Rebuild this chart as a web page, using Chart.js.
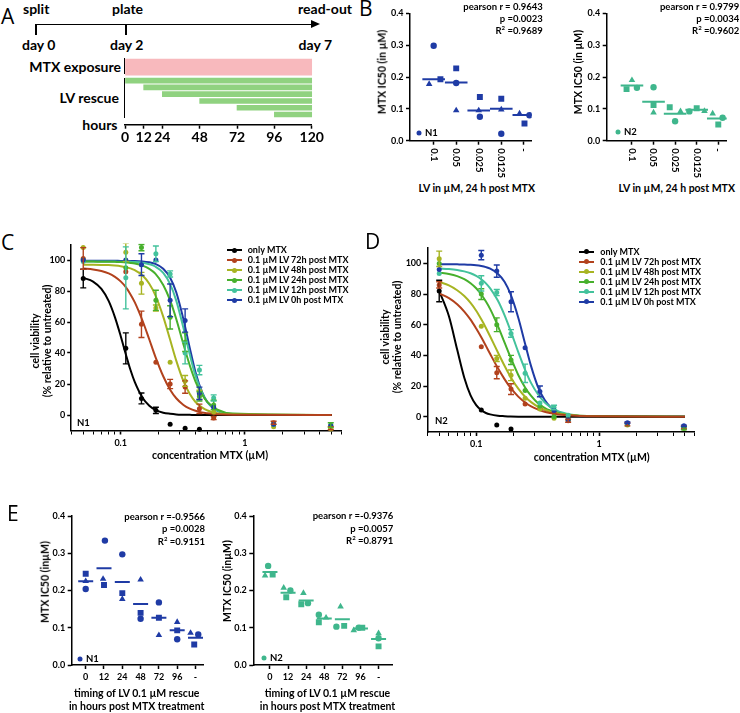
<!DOCTYPE html>
<html lang="en">
<head>
    <meta charset="UTF-8">
    <title>MTX IC50 and leucovorin rescue</title>
    <script src="https://cdn.jsdelivr.net/npm/chart.js"></script>
    <style>
        body { margin: 0; background: #fff; }
        #fig { position: relative; width: 740px; height: 713px; overflow: hidden; font-family: Lato, sans-serif; font-weight: bold; color: #000; }
        #fig canvas { position: absolute; }
        .t { position: absolute; white-space: nowrap; line-height: 1; }
        .c { transform: translate(-50%, -50%); }
        .r { transform: translate(-100%, -50%); }
        .l { transform: translate(0, -50%); }
        .v { transform: translate(-50%, -50%) rotate(-90deg); }
        .letter { font-family: "Open Sans", sans-serif; font-weight: normal; font-size: 21px; }
        .a { font-size: 14px; }
        .ttl { font-size: 10.5px; }
        .small { font-size: 9.5px; }
        .stat { position: absolute; font-size: 9.5px; text-align: right; line-height: 12px; white-space: nowrap; }
        .stat sup { font-size: 6px; line-height: 0; vertical-align: 4px; }
        .ln { position: absolute; background: #000; }
        .leg { position: absolute; font-size: 9px; }
        .leg div { position: relative; height: 10px; line-height: 10px; padding-left: 21px; white-space: nowrap; }
        .leg div::before { content: ''; position: absolute; left: 0; top: 4px; width: 15px; height: 2px; background: var(--c); }
        .leg div::after { content: ''; position: absolute; left: 5px; top: 2.5px; width: 5px; height: 5px; border-radius: 50%; background: var(--c); }
        .dot { position: absolute; width: 5px; height: 5px; border-radius: 50%; transform: translate(-50%, -50%); }
    </style>
</head>
<body>
<div id="fig">
    <!-- A: timeline -->
    <div class="t letter l" style="left:1px;top:16px">A</div>
    <div class="t a l" style="left:23px;top:8.5px">split</div>
    <div class="t a l" style="left:112px;top:8.5px">plate</div>
    <div class="t a r" style="left:352px;top:8.5px">read-out</div>
    <div class="ln" style="left:36px;top:23.5px;width:277px;height:1.6px"></div>
    <div style="position:absolute;left:311px;top:19.8px;width:0;height:0;border-left:9px solid #000;border-top:4.5px solid transparent;border-bottom:4.5px solid transparent"></div>
    <div class="ln" style="left:35.2px;top:23.5px;width:1.6px;height:11.5px"></div>
    <div class="ln" style="left:125.2px;top:23.5px;width:1.6px;height:11.5px"></div>
    <div class="t a l" style="left:22px;top:45px">day 0</div>
    <div class="t a l" style="left:110px;top:45px">day 2</div>
    <div class="t a r" style="left:332px;top:45px">day 7</div>
    <div class="t a r" style="left:121px;top:67px">MTX exposure</div>
    <div class="t a r" style="left:119px;top:98px">LV rescue</div>
    <div class="t a r" style="left:117.5px;top:124.7px">hours</div>
    <div class="ln" style="left:123.5px;top:58px;width:1.6px;height:16px"></div>
    <div class="ln" style="left:123.5px;top:78px;width:1.6px;height:39.5px"></div>
    <canvas id="chartA" width="340" height="100" style="left:0;top:50px"></canvas>

    <!-- B -->
    <div class="t letter l" style="left:359px;top:8px">B</div>
    <canvas id="chartB1" width="165" height="181" style="left:380px;top:0"></canvas>
    <canvas id="chartB2" width="163" height="181" style="left:577px;top:0"></canvas>
    <div class="t ttl v" style="left:381.7px;top:71.7px">MTX IC50 (in µM)</div>
    <div class="t ttl v" style="left:578.3px;top:71.7px">MTX IC50 (in µM)</div>
    <div class="t ttl c" style="left:476.7px;top:188px">LV in µM, 24 h post MTX</div>
    <div class="t ttl c" style="left:676.7px;top:188px">LV in µM, 24 h post MTX</div>
    <div class="stat" style="right:197.3px;top:0.7px">pearson r = 0.9643<br>p =0.0023<br>R<sup>2</sup> =0.9689</div>
    <div class="stat" style="right:0.7px;top:0.7px">pearson r = 0.9799<br>p =0.0034<br>R<sup>2</sup> =0.9602</div>
    <div class="dot" style="left:419.3px;top:132.7px;background:#1f3ba5"></div>
    <div class="t small l" style="left:425px;top:132.7px">N1</div>
    <div class="dot" style="left:618.3px;top:131.7px;background:#3fb68c"></div>
    <div class="t small l" style="left:624px;top:131.7px">N2</div>

    <!-- C -->
    <div class="t letter l" style="left:1px;top:241.5px">C</div>
    <canvas id="chartC" width="350" height="216" style="left:0;top:236px"></canvas>
    <div class="t ttl v" style="left:35px;top:341px">cell viability</div>
    <div class="t ttl v" style="left:46.7px;top:341px">(% relative to untreated)</div>
    <div class="t ttl c" style="left:210px;top:455px">concentration MTX (µM)</div>
    <div class="t small l" style="left:77px;top:423.3px">N1</div>
    <div class="leg" style="left:226.7px;top:245px">
        <div style="--c:#000000">only MTX</div>
        <div style="--c:#b2421d">0.1 µM LV 72h post MTX</div>
        <div style="--c:#a7b422">0.1 µM LV 48h post MTX</div>
        <div style="--c:#47b02c">0.1 µM LV 24h post MTX</div>
        <div style="--c:#43c29c">0.1 µM LV 12h post MTX</div>
        <div style="--c:#1f3ba5">0.1 µM LV 0h post MTX</div>
    </div>

    <!-- D -->
    <div class="t letter l" style="left:365px;top:241px">D</div>
    <canvas id="chartD" width="370" height="216" style="left:370px;top:236px"></canvas>
    <div class="t ttl v" style="left:385px;top:336.7px">cell viability</div>
    <div class="t ttl v" style="left:396.7px;top:336.7px">(% relative to untreated)</div>
    <div class="t ttl c" style="left:591.7px;top:456.7px">concentration MTX (µM)</div>
    <div class="t small l" style="left:435px;top:420.7px">N2</div>
    <div class="leg" style="left:579.3px;top:246.7px">
        <div style="--c:#000000">only MTX</div>
        <div style="--c:#b2421d">0.1 µM LV 72h post MTX</div>
        <div style="--c:#a7b422">0.1 µM LV 48h post MTX</div>
        <div style="--c:#47b02c">0.1 µM LV 24h post MTX</div>
        <div style="--c:#43c29c">0.1 µM LV 12h post MTX</div>
        <div style="--c:#1f3ba5">0.1 µM LV 0h post MTX</div>
    </div>

    <!-- E -->
    <div class="t letter l" style="left:7px;top:513px">E</div>
    <canvas id="chartE1" width="175" height="183" style="left:40px;top:505px"></canvas>
    <canvas id="chartE2" width="180" height="183" style="left:222px;top:505px"></canvas>
    <div class="t ttl v" style="left:45px;top:581.7px">MTX IC50 (inµM)</div>
    <div class="t ttl v" style="left:226.7px;top:581px">MTX IC50 (inµM)</div>
    <div class="t ttl c" style="left:136.7px;top:693.3px">timing of LV 0.1 µM rescue</div>
    <div class="t ttl c" style="left:136.7px;top:705.7px">in hours post MTX treatment</div>
    <div class="t ttl c" style="left:327.5px;top:693.3px">timing of LV 0.1 µM rescue</div>
    <div class="t ttl c" style="left:327.5px;top:705.7px">in hours post MTX treatment</div>
    <div class="stat" style="right:535px;top:510.5px;line-height:12.5px">pearson r =-0.9566<br>p =0.0028<br>R<sup>2</sup> =0.9151</div>
    <div class="stat" style="right:346.7px;top:510px;line-height:12.5px">pearson r =-0.9376<br>p =0.0057<br>R<sup>2</sup> =0.8791</div>
    <div class="dot" style="left:80px;top:659.3px;background:#1f3ba5"></div>
    <div class="t small l" style="left:86px;top:659.3px">N1</div>
    <div class="dot" style="left:264.3px;top:658px;background:#3fb68c"></div>
    <div class="t small l" style="left:270px;top:658px">N2</div>
</div>

<script>
    // ---------- A: MTX exposure and LV rescue windows (hours after plating) ----------
    const timelineRows = ['MTX exposure', '', 'LV 0 h', 'LV 12 h', 'LV 24 h', 'LV 48 h', 'LV 72 h', 'LV 96 h', ''];
    const mtxWindow = [0, 120];
    const lvStartHours = [0, 12, 24, 48, 72, 96];
    const readoutHour = 120;
    const hourTicks = [0, 12, 24, 48, 72, 96, 120];

    // ---------- B: MTX IC50 vs LV dose (24 h post MTX) ----------
    const lvDoseLabels = ['0.1', '0.05', '0.025', '0.0125', '-'];
    const bN1Circle = [0.298, 0.181, 0.075, 0.022, 0.080];
    const bN1Square = [0.193, 0.227, 0.137, 0.132, 0.054];
    const bN1Triangle = [0.178, 0.095, 0.095, 0.098, 0.085];
    const bN1Median = [0.193, 0.183, 0.095, 0.100, 0.081];
    const bN2Circle = [0.166, 0.168, 0.061, 0.092, 0.072];
    const bN2Square = [0.162, 0.112, 0.105, 0.102, 0.051];
    const bN2Triangle = [0.190, 0.088, 0.092, 0.093, 0.085];
    const bN2Median = [0.173, 0.122, 0.085, 0.097, 0.070];

    // ---------- C / D: dose response ----------
    const seriesNames = ['only MTX', '0.1 µM LV 72h post MTX', '0.1 µM LV 48h post MTX',
        '0.1 µM LV 24h post MTX', '0.1 µM LV 12h post MTX', '0.1 µM LV 0h post MTX'];
    const conc = [0.05, 0.11, 0.147, 0.192, 0.25, 0.33, 0.43, 0.56, 1.7, 4.9];
    const fitConc = [0.05, 0.06, 0.07, 0.08, 0.09, 0.1, 0.11, 0.12, 0.13, 0.15, 0.17, 0.19,
        0.22, 0.25, 0.28, 0.32, 0.36, 0.4, 0.45, 0.5, 0.6, 0.8, 5];
    const xLogTicks = [0.04, 0.05, 0.06, 0.07, 0.08, 0.09, 0.1, 0.2, 0.3, 0.4, 0.5, 0.6, 0.7, 0.8, 0.9, 1, 2, 3, 4, 5, 6];
    const viabilityTicks = [0, 20, 40, 60, 80, 100];

    // N1 (panel C)
    const cMeanMTX = [88, 43, 10.7, 3, -6, -8.6, -9.2, null, null, null];
    const cSemMTX = [6, 10, 3.5, 2, 0, 0, 0, 0, 0, 0];
    const cMean72 = [101, 92.5, 58.5, 34, 20, 18, 4, -2, -5, -8.5];
    const cSem72 = [7, 0, 8.5, 0, 3, 4, 3, 1, 1, 1];
    const cMean48 = [108, 105, 85, 69, 34, 22, 13, 2, -7.5, -9];
    const cSem48 = [0, 6, 7, 2, 0, 3.5, 3, 0, 0, 0];
    const cMean24 = [100, 95, 108, 74, 63, 47, 12, 6.5, -6, -6.5];
    const cSem24 = [0, 0, 2, 6.5, 7.5, 6, 3, 3, 0, 1.5];
    const cMean12 = [99, 88.5, 97, 104, 91, 40, 29, 11, -6, -7];
    const cSem12 = [0, 20, 0, 5, 2, 7, 3, 2, 0, 0];
    const cMean0 = [100, 100, 97, 100, 74, 61, 14, 5, -6, -7];
    const cSem0 = [0, 0, 7, 0, 10.5, 7.5, 4, 0, 0, 0];
    const cFitMTX = [88.5, 86.1, 81.3, 73.6, 63, 51, 39.2, 29, 21.2, 11.1, 5.9, 3.3, 1.5, 0.8, 0.4, 0.2, 0.1, 0, 0, 0, 0, 0, 0];
    const cFit72 = [94.5, 93.9, 92.9, 91.4, 89.1, 86.2, 82.5, 77.8, 72.7, 60.8, 48.7, 37.7, 25, 16.3, 10.8, 6.5, 4.1, 2.7, 1.6, 1.1, 0.5, 0.2, 0];
    const cFit48 = [97, 96.9, 96.8, 96.7, 96.4, 96, 95.4, 94.6, 93.4, 90, 84.7, 77.4, 63.5, 48.5, 35.1, 21.8, 13.5, 8.4, 4.9, 2.9, 1.2, 0.3, 0];
    const cFit24 = [99, 99, 98.9, 98.9, 98.8, 98.7, 98.4, 98.1, 97.7, 96.4, 94.3, 91.2, 83.9, 73.9, 61.9, 45.5, 31.9, 21.6, 13.4, 8.3, 3.5, 0.9, 0];
    const cFit12 = [99, 99, 99, 99, 99, 98.9, 98.9, 98.8, 98.7, 98.2, 97.3, 95.8, 91.7, 84.4, 73.8, 56.1, 39, 25.3, 14.5, 8.1, 2.9, 0.5, 0];
    const cFit0 = [99.5, 99.5, 99.5, 99.5, 99.5, 99.4, 99.4, 99.3, 99.3, 99.1, 98.5, 97.5, 94.4, 88.6, 79.2, 61.7, 43.1, 27.6, 15.1, 8.2, 2.7, 0.4, 0];

    // N2 (panel D)
    const dMeanMTX = [82, 4.3, -5.4, -8, null, null, null, null, null, null];
    const dSemMTX = [7, 0, 0, 0, 0, 0, 0, 0, 0, 0];
    const dMean72 = [86, 45.6, 28.7, 18, 8.3, 5.4, 2.5, -2.6, -5, -7];
    const dSem72 = [2, 0, 4, 3.5, 0, 0, 0, 1, 1, 1];
    const dMean48 = [103, 59, 38, 27, 12, 5, -1, -2, -5.5, -7.5];
    const dSem48 = [5, 0, 2, 3.5, 0, 0, 0, 0, 0, 0];
    const dMean24 = [100, 80, 60, 37, 17, 7, 0, -2, -5, -7.6];
    const dSem24 = [0, 3.5, 4.5, 3, 0, 0, 0, 0, 0, 1];
    const dMean12 = [93.5, 87, 81, 54.3, 28.3, 9, 6, 1, -4.5, -7];
    const dSem12 = [0, 5, 2, 2.5, 6, 0, 1.5, 0, 0, 0];
    const dMean0 = [96, 105.4, 95, 75, 45, 16.5, 4, -2, -3.9, -6];
    const dSem0 = [0, 3, 4, 6.5, 0, 3.5, 0, 0, 0.5, 0.5];
    const dFitMTX = [82, 65.5, 43.8, 25.4, 13.9, 7.5, 4.2, 2.4, 1.5, 0.6, 0.3, 0.1, 0, 0, 0, 0, 0, 0, 0, 0, 0, 0, 0];
    const dFit72 = [80.5, 77.4, 73.4, 68.6, 63.3, 57.5, 51.8, 46.2, 40.9, 31.7, 24.5, 18.9, 13.1, 9.3, 6.7, 4.6, 3.2, 2.4, 1.6, 1.2, 0.7, 0.3, 0];
    const dFit48 = [87.9, 85.7, 82.5, 78.7, 74.2, 69.1, 63.5, 57.9, 52.3, 42, 33.2, 26.1, 18.3, 13, 9.5, 6.4, 4.5, 3.3, 2.3, 1.6, 0.9, 0.4, 0];
    const dFit24 = [94, 93.1, 91.7, 89.7, 87.1, 83.8, 79.7, 75.1, 70.2, 59.3, 48.5, 38.9, 27.2, 19.1, 13.5, 8.6, 5.8, 4, 2.6, 1.8, 0.9, 0.3, 0];
    const dFit12 = [96.7, 96.3, 95.7, 94.8, 93.6, 91.9, 89.7, 87, 83.7, 75.8, 66.3, 56.3, 42.1, 30.6, 21.9, 14.3, 9.4, 6.4, 4.1, 2.7, 1.3, 0.4, 0];
    const dFit0 = [99.5, 99.5, 99.4, 99.3, 99.1, 98.8, 98.3, 97.6, 96.6, 93.3, 88.1, 80.1, 64.6, 47.6, 32.8, 18.9, 11, 6.5, 3.5, 2, 0.7, 0.2, 0];

    // ---------- E: MTX IC50 vs timing of LV rescue ----------
    const rescueLabels = ['0', '12', '24', '48', '72', '96', '-'];
    const eN1Circle = [0.204, 0.334, 0.297, 0.124, 0.168, 0.069, 0.082];
    const eN1Square = [0.245, 0.215, 0.193, 0.140, 0.127, 0.093, 0.055];
    const eN1Triangle = [0.225, 0.231, 0.177, 0.229, 0.080, 0.115, 0.086];
    const eN1Mean = [0.225, 0.260, 0.223, 0.164, 0.127, 0.093, 0.073];
    const eN2Circle = [0.266, 0.200, 0.166, 0.135, 0.103, 0.100, 0.072];
    const eN2Square = [0.243, 0.182, 0.163, 0.115, 0.105, 0.100, 0.050];
    const eN2Triangle = [0.240, 0.207, 0.193, 0.127, 0.157, 0.093, 0.085];
    const eN2Mean = [0.250, 0.194, 0.173, 0.125, 0.123, 0.098, 0.070];
    const ic50Ticks = [0, 0.1, 0.2, 0.3, 0.4];

    // horizontal spread of overlapping symbols (in category widths)
    const bN1Jitter = { circle: [0, 0, 0.05, 0, 0.25], square: [0.3, 0, 0.05, 0, 0.03], triangle: [-0.2, 0, 0, 0, -0.19] };
    const bN2Jitter = { circle: [0.23, 0, 0, -0.34, 0.2], square: [-0.25, 0, -0.25, 0, 0], triangle: [0, 0, 0.25, 0.36, -0.26] };
    const eN1Jitter = { circle: [0, 0.05, 0, 0, 0, 0, 0.15], square: [0, 0, 0, 0, 0, 0, -0.07], triangle: [0, -0.05, 0, 0, 0, 0, -0.27] };
    const eN2Jitter = { circle: [-0.1, 0.13, 0.1, -0.3, -0.33, -0.1, 0], square: [0.15, -0.1, -0.27, -0.3, 0.1, 0.1, 0], triangle: [-0.27, -0.24, -0.15, 0.1, -0.1, -0.37, 0] };

    const seriesColors = ['#000000', '#b2421d', '#a7b422', '#47b02c', '#43c29c', '#1f3ba5'];
    const n1Color = '#1f3ba5';
    const n2Color = '#3fb68c';

    Chart.defaults.font.family = 'Lato, sans-serif';
    Chart.defaults.font.weight = 'bold';
    Chart.defaults.font.size = 9;
    Chart.defaults.color = '#000';
    Chart.defaults.animation = false;
    Chart.defaults.responsive = false;
    Chart.defaults.plugins.legend.display = false;
    Chart.defaults.plugins.tooltip.enabled = false;

    // error bars (mean +/- SEM) drawn through the chart scales
    const errorBars = {
        id: 'errorBars',
        afterDatasetsDraw(chart) {
            const ctx = chart.ctx, xs = chart.scales.x, ys = chart.scales.y, a = chart.chartArea;
            ctx.save();
            ctx.beginPath();
            ctx.rect(a.left, a.top - 1, a.right - a.left, a.bottom - a.top + 2);
            ctx.clip();
            chart.data.datasets.forEach(ds => {
                if (ds.type !== 'scatter') return;
                ctx.strokeStyle = ds.borderColor;
                ctx.lineWidth = 1.4;
                ds.data.forEach(p => {
                    if (!p.sem) return;
                    const px = xs.getPixelForValue(p.x);
                    const top = ys.getPixelForValue(p.y + p.sem);
                    const bot = ys.getPixelForValue(p.y - p.sem);
                    ctx.beginPath();
                    ctx.moveTo(px, top); ctx.lineTo(px, bot);
                    ctx.moveTo(px - 3, top); ctx.lineTo(px + 3, top);
                    ctx.moveTo(px - 3, bot); ctx.lineTo(px + 3, bot);
                    ctx.stroke();
                });
            });
            ctx.restore();
        }
    };

    // category labels turned 90 degrees clockwise (reading downwards), placed on the x scale
    const downLabels = {
        id: 'downLabels',
        afterDraw(chart, args, opts) {
            if (!opts.labels) return;
            const ctx = chart.ctx, xs = chart.scales.x, top = chart.chartArea.bottom + 7.5;
            ctx.save();
            ctx.font = 'bold 9.5px Lato, sans-serif';
            ctx.fillStyle = '#000';
            ctx.textAlign = 'left';
            ctx.textBaseline = 'middle';
            opts.labels.forEach((lab, i) => {
                ctx.save();
                ctx.translate(xs.getPixelForValue(i), top);
                ctx.rotate(Math.PI / 2);
                ctx.fillText(lab, 0, 0);
                ctx.restore();
            });
            ctx.restore();
        }
    };

    const axisBorder = { color: '#000', width: 1.5 };
    function axisGrid(len) {
        return { drawOnChartArea: false, tickLength: len, tickColor: '#000', tickWidth: 1.5 };
    }

    function yAxis(width, min, max, tickVals, fmt, pad) {
        return {
            type: 'linear', min: min, max: max,
            afterFit: s => { s.width = width; },
            afterBuildTicks: s => { s.ticks = tickVals.map(v => ({ value: v })); },
            border: axisBorder,
            grid: axisGrid(4),
            ticks: { padding: pad, callback: fmt }
        };
    }

    function categoryX(height, min, max, labels, rotated, pad) {
        return {
            type: 'linear', min: min, max: max,
            afterFit: s => { s.height = height; },
            afterBuildTicks: s => { s.ticks = labels.map((_, i) => ({ value: i })); },
            border: axisBorder,
            grid: axisGrid(4),
            ticks: { padding: pad, autoSkip: false, maxRotation: 0, callback: v => rotated ? '' : labels[v] }
        };
    }

    // ---------- A ----------
    new Chart(document.getElementById('chartA'), {
        type: 'bar',
        data: {
            labels: timelineRows,
            datasets: [{
                data: timelineRows.map((_, i) => i === 0 ? mtxWindow : null),
                backgroundColor: '#f8b9bd', barThickness: 16, grouped: false, clip: false
            }, {
                data: timelineRows.map((_, i) => (i >= 2 && i < 2 + lvStartHours.length) ? [lvStartHours[i - 2], readoutHour] : null),
                backgroundColor: '#90d280', barThickness: 5, grouped: false, clip: false
            }]
        },
        options: {
            indexAxis: 'y',
            layout: { padding: { left: 125, right: 28.3, top: 13.7 } },
            scales: {
                x: {
                    type: 'linear', min: 0, max: 120,
                    afterFit: s => { s.height = 25.3; },
                    afterBuildTicks: s => { s.ticks = hourTicks.map(v => ({ value: v })); },
                    border: axisBorder,
                    grid: axisGrid(4),
                    ticks: { padding: 0, font: { size: 14 } }
                },
                y: { type: 'category', display: false, offset: true }
            }
        }
    });

    // ---------- B / E scatter with line marks ----------
    function dotChart(id, sets, jit, color, o) {
        const pts = (vals, j) => vals.map((v, i) => ({ x: i + j[i], y: v }));
        new Chart(document.getElementById(id), {
            type: 'scatter',
            data: {
                datasets: [
                    { data: sets.line.map((v, i) => ({ x: i, y: v })), pointStyle: 'line', pointRadius: o.lineR, pointBorderColor: color, pointBorderWidth: 2, order: 4 },
                    { data: pts(sets.circle, jit.circle), pointStyle: 'circle', pointRadius: 3.2, backgroundColor: color, pointBorderWidth: 0, order: 1 },
                    { data: pts(sets.square, jit.square), pointStyle: 'rect', pointRadius: 4.2, backgroundColor: color, pointBorderWidth: 0, order: 2 },
                    { data: pts(sets.triangle, jit.triangle), pointStyle: 'triangle', pointRadius: 3.8, backgroundColor: color, pointBorderWidth: 0, order: 3 }
                ]
            },
            plugins: [downLabels],
            options: {
                layout: { padding: { top: o.top, right: o.right } },
                plugins: { downLabels: { labels: o.rotated ? o.labels : null } },
                scales: {
                    x: categoryX(o.xh, o.xmin, o.xmax, o.labels, o.rotated, o.xpad),
                    y: yAxis(o.yw, 0, 0.4, ic50Ticks, v => v.toFixed(1), 2.5)
                }
            }
        });
    }

    dotChart('chartB1', { circle: bN1Circle, square: bN1Square, triangle: bN1Triangle, line: bN1Median }, bN1Jitter, n1Color,
        { lineR: 11.3, top: 5, right: 12, xh: 40.3, xmin: -1.05, xmax: 4.35, labels: lvDoseLabels, rotated: true, xpad: 3, yw: 30 });
    dotChart('chartB2', { circle: bN2Circle, square: bN2Square, triangle: bN2Triangle, line: bN2Median }, bN2Jitter, n2Color,
        { lineR: 11.3, top: 5, right: 6.7, xh: 40.3, xmin: -1.17, xmax: 4.39, labels: lvDoseLabels, rotated: true, xpad: 3, yw: 29.7 });

    // ---------- C / D ----------
    function doseChart(id, fits, means, sems, o) {
        const datasets = [];
        fits.forEach((fit, k) => {
            datasets.push({
                type: 'line', label: seriesNames[k],
                data: fitConc.map((x, i) => ({ x: x, y: fit[i] })),
                borderColor: seriesColors[k], borderWidth: 2, pointRadius: 0,
                cubicInterpolationMode: 'monotone', order: k === 1 ? 10 : 11 + k
            });
            datasets.push({
                type: 'scatter', label: seriesNames[k],
                data: conc.map((x, i) => ({ x: x, y: means[k][i], sem: sems[k][i] })).filter(p => p.y !== null),
                backgroundColor: seriesColors[k], borderColor: seriesColors[k],
                pointRadius: 2.5, pointBorderWidth: 0, order: 6 - k, clip: false
            });
        });
        new Chart(document.getElementById(id), {
            type: 'scatter',
            data: { datasets: datasets },
            plugins: [errorBars],
            options: {
                layout: { padding: { top: o.top, right: o.right } },
                scales: {
                    x: {
                        type: 'logarithmic', min: 0.04, max: 6,
                        afterFit: s => { s.height = o.xh; },
                        afterBuildTicks: s => { s.ticks = xLogTicks.map(v => ({ value: v })); },
                        border: axisBorder,
                        grid: { drawOnChartArea: false, tickLength: 4, tickColor: '#000',
                            tickWidth: c => (c.tick && (c.tick.value === 0.1 || c.tick.value === 1)) ? 1.6 : 1 },
                        ticks: { padding: 3, autoSkip: false, maxRotation: 0,
                            callback: v => (v === 0.1 ? '0.1' : v === 1 ? '1' : '') }
                    },
                    y: yAxis(o.yw, -10, 110, viabilityTicks, v => v, 2)
                }
            }
        });
    }

    doseChart('chartC',
        [cFitMTX, cFit72, cFit48, cFit24, cFit12, cFit0],
        [cMeanMTX, cMean72, cMean48, cMean24, cMean12, cMean0],
        [cSemMTX, cSem72, cSem48, cSem24, cSem12, cSem0],
        { top: 8.5, right: 8.3, xh: 21.5, yw: 71.2 });
    doseChart('chartD',
        [dFitMTX, dFit72, dFit48, dFit24, dFit12, dFit0],
        [dMeanMTX, dMean72, dMean48, dMean24, dMean12, dMean0],
        [dSemMTX, dSem72, dSem48, dSem24, dSem12, dSem0],
        { top: 12.1, right: 45.3, xh: 20, yw: 57.3 });

    // ---------- E ----------
    dotChart('chartE1', { circle: eN1Circle, square: eN1Square, triangle: eN1Triangle, line: eN1Mean }, eN1Jitter, n1Color,
        { lineR: 7.5, top: 11, right: 12, xh: 23, xmin: -0.765, xmax: 6.41, labels: rescueLabels, rotated: false, xpad: 3, yw: 31.7 });
    dotChart('chartE2', { circle: eN2Circle, square: eN2Square, triangle: eN2Triangle, line: eN2Mean }, eN2Jitter, n2Color,
        { lineR: 7.5, top: 11, right: 8.7, xh: 23, xmin: -0.92, xmax: 6.77, labels: rescueLabels, rotated: false, xpad: 3, yw: 31.3 });
</script>
</body>
</html>
